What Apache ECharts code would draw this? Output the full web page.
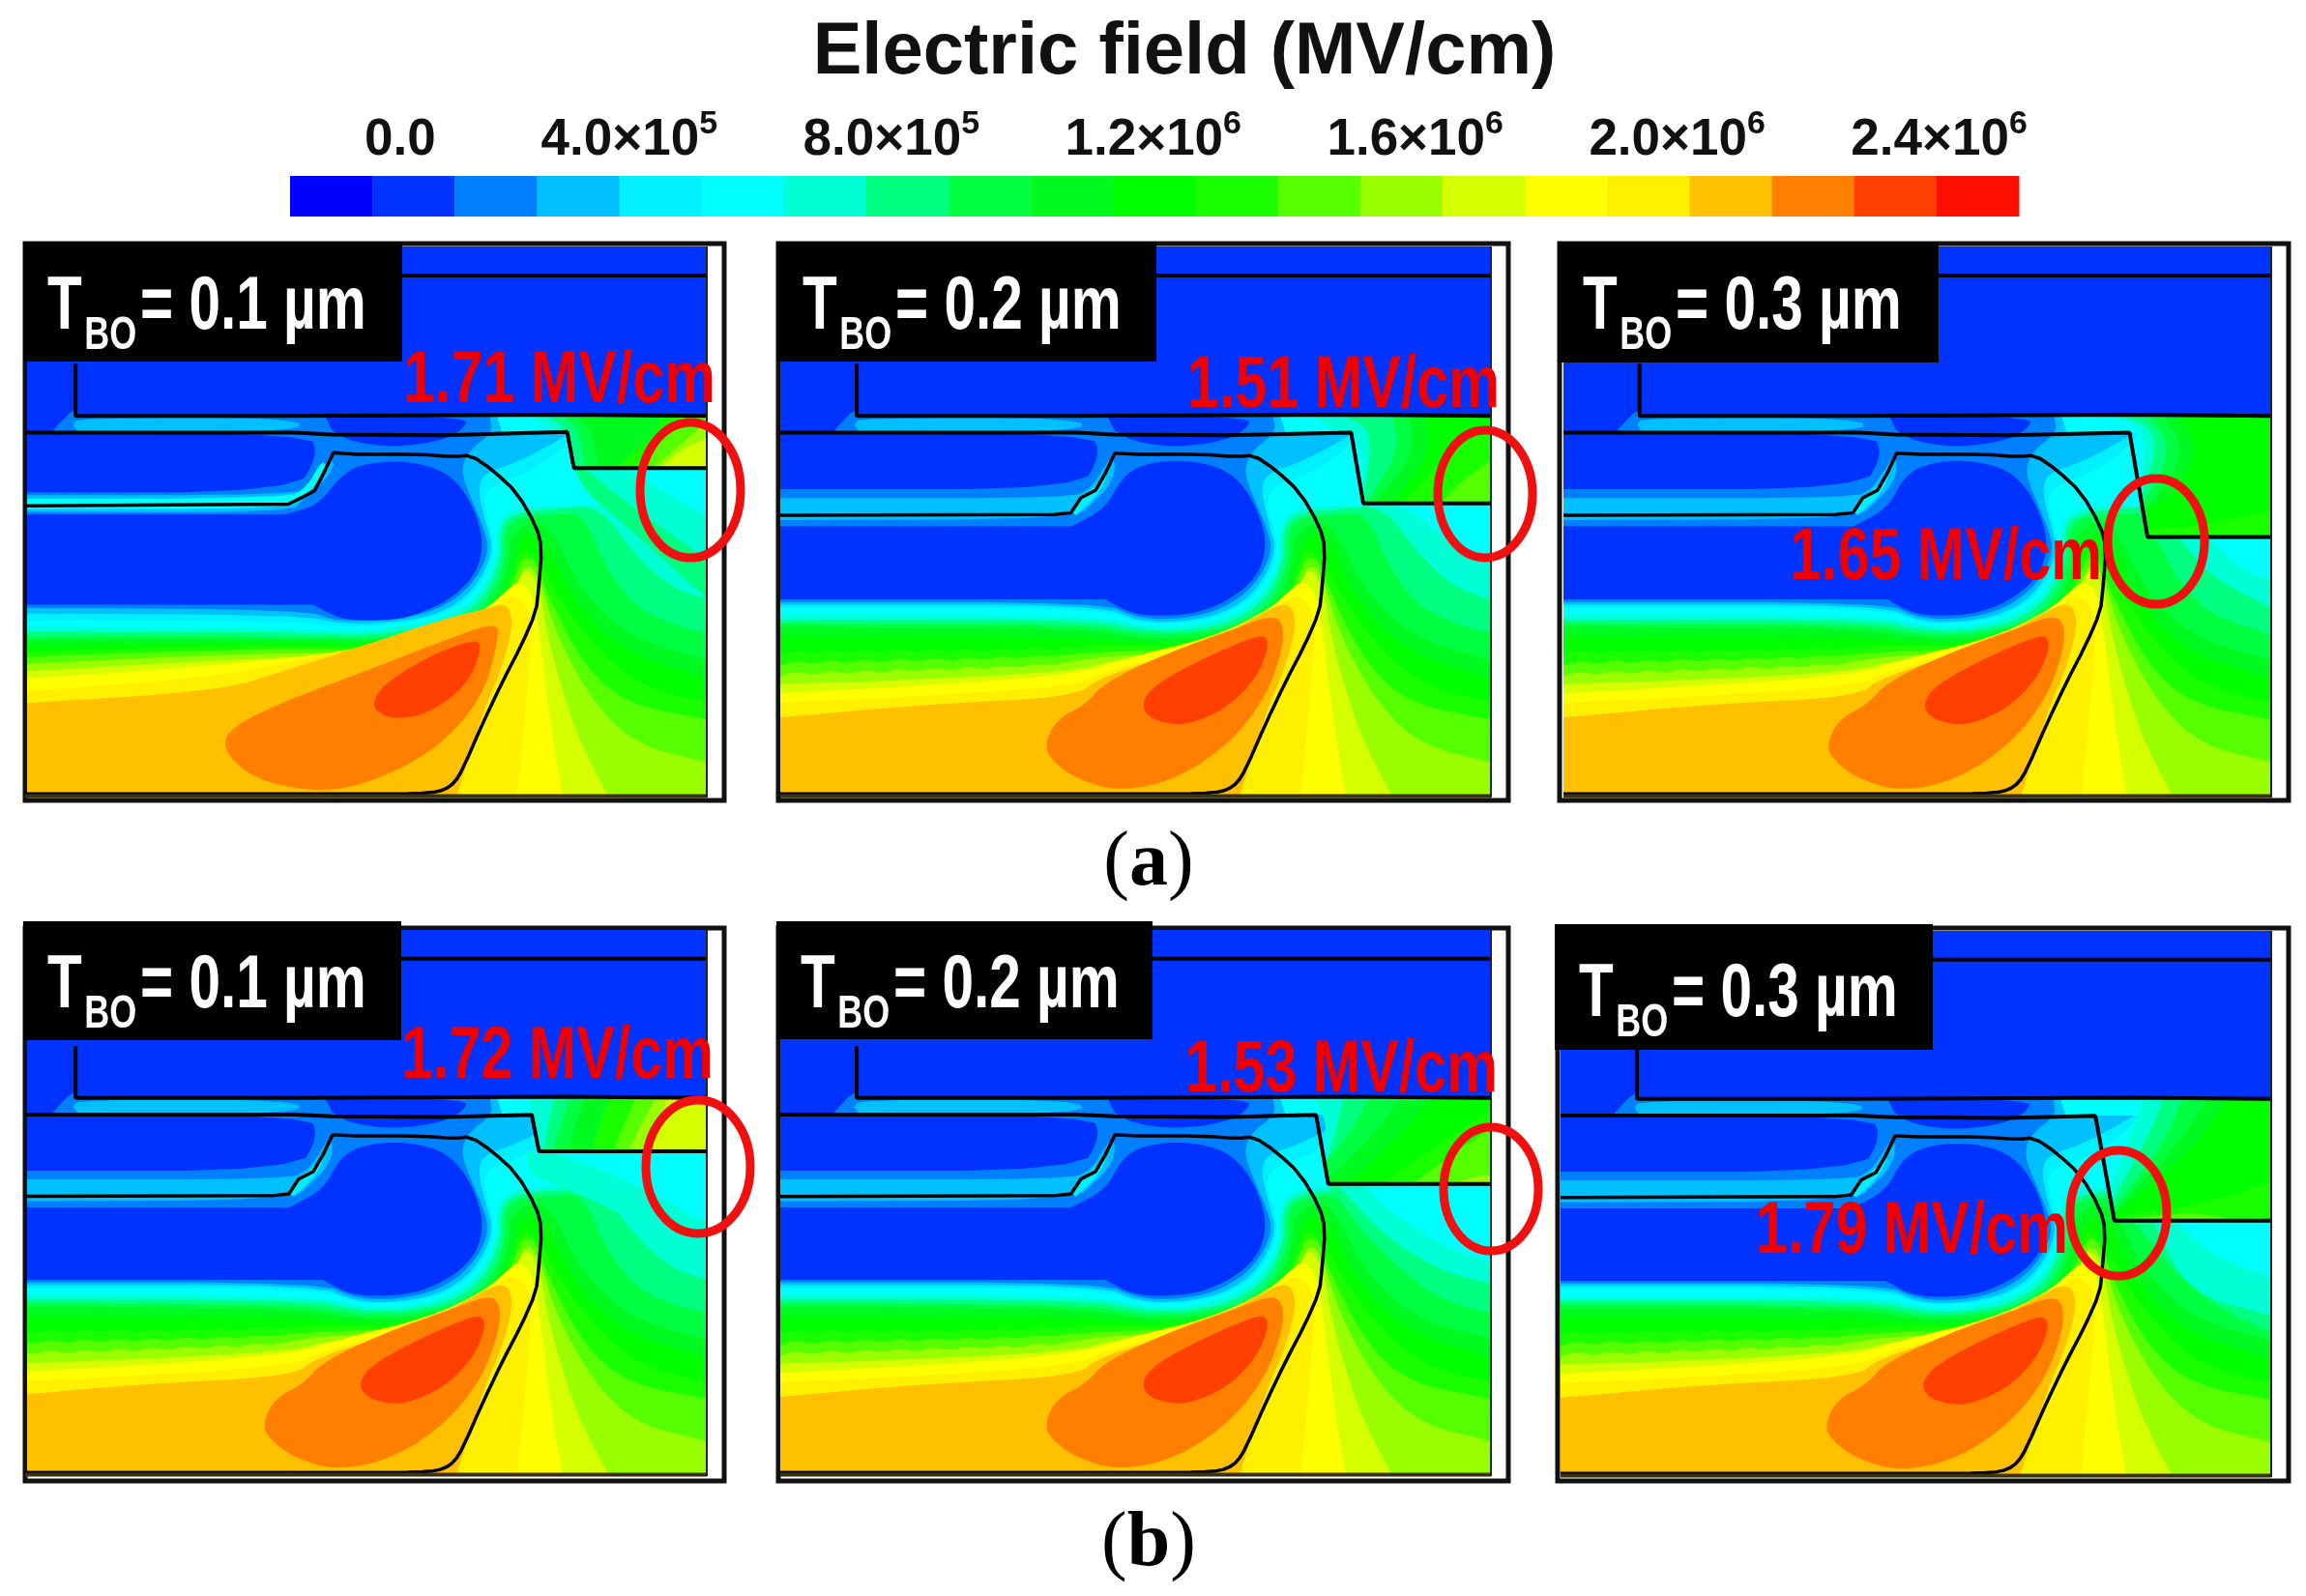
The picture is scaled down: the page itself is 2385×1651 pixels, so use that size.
<!DOCTYPE html>
<html><head><meta charset="utf-8">
<style>html,body{margin:0;padding:0;background:#fff}#c{width:2385px;height:1651px}</style>
<script src="https://cdn.jsdelivr.net/npm/echarts@6/dist/echarts.min.js"></script>
</head><body><div id="c"></div>
<script>
// ---- colour scale
const levelColors=['#0000ff','#0033ff','#0080ff','#00c0ff','#00f0ff','#00ffff','#00ffd5','#00ff80','#00ff40','#00fa20','#00ff00','#1aff00','#55ff00','#99ff00','#d5ff00','#ffff00','#fff000','#ffc000','#ff8000','#ff4000','#ff1000'];
const bandEdges=[-118000,7700,133400,259100,384800,510500,636200,761900,887600,1013300,1139000,1264700,1390400,1516100,1641800,1767500,1893200,2018900,2144600,2270300,2396000,2521700];
const tickValues=[50000,400000,800000,1200000,1600000,2000000,2400000];
const tickLabels=['{n|0.0}','{n|4.0×10}{s|5}','{n|8.0×10}{s|5}','{n|1.2×10}{s|6}','{n|1.6×10}{s|6}','{n|2.0×10}{s|6}','{n|2.4×10}{s|6}'];
// ---- panel annotations
const tboLabels=['= 0.1 µm','= 0.2 µm','= 0.3 µm','= 0.1 µm','= 0.2 µm','= 0.3 µm'];
const tboAnchors=[[49,357],[830,357],[1637,357],[49,1059],[828,1059],[1633,1068]];
const readoutTexts=['1.71 MV/cm','1.51 MV/cm','1.65 MV/cm','1.72 MV/cm','1.53 MV/cm','1.79 MV/cm'];
const readoutAnchors=[[417,433],[1228,438],[1851,616],[415,1132],[1226,1146],[1816,1313]];
const ringCenters=[[714,507],[1536,511],[2230,560],[722,1207],[1542,1230],[2191,1255]];
const ringRadii=[[52,70],[49,66],[50,65],[54,69],[49,64],[50,65]];
const labelBoxes=[[24,250,416,374],[803,250,1196,374],[1611,250,2005,375],[24,953,415,1076],[803,953,1192,1075],[1608,956,1999,1086]];
const frames=[[26,252,749,828],[805,252,1560,828],[1613,252,2367,828],[26,960,749,1532],[805,960,1560,1532],[1611,960,2367,1532]];
const fieldBoxes=[[28,255,731,825],[807,255,1542,825],[1617,255,2349,825],[28,962,731,1527],[807,962,1542,1527],[1614,963,2349,1528]];
const deviceXMin=[90,33,33,90,33,33];
const captionTexts=['{p|(}{b|a}{p|)}','{p|(}{b|b}{p|)}'];
const captionAnchors=[[1188,894],[1188,1598]];
// ---- device outlines (device units)
const topLine=[[33,118],[1492,118]];
const gateLine=[[190,355],[190,495],[640,495],[640,492],[1200,492],[1200,495],[1492,495]];
const bottomLine=[[33,1516],[1492,1516]];
const sideLine=[[1492,40],[1492,1520]];
const oxideRight=[[770,598],[900,598],[970,605],[1005,600],[1050,640],[1100,700],[1140,790],[1152,850],[1145,960],[1140,1020],[1110,1110],[1070,1210],[1030,1320],[990,1440],[972,1480],[950,1500],[920,1508],[860,1510],[33,1510]];
const oxideLeftB=[[33,762],[595,760],[630,755],[650,715],[680,695],[700,650],[720,595]];
const oxideLeftA=[[33,737],[629,732],[660,712],[683,696],[705,640],[722,594]];
const stepCommon=[[33,540],[640,540],[720,545],[950,547]];
const stepA1=[[1204,538],[1218,635],[1492,635]];
const stepA2=[[1205,540],[1230,730],[1492,730]];
const stepA3=[[1200,540],[1237,820],[1492,820]];
const stepB1=[[1131,541],[1146,640],[1492,640]];
const stepB2=[[1133,541],[1158,728],[1492,728]];
const stepB3=[[1131,541],[1170,825],[1492,825]];
// ---- contour right parts, by colour level
const rightL3=[[860,1040],[940,1015],[1005,955],[1045,860],[1030,790],[1000,700],[985,640],[1000,590],[1050,540],[1045,497]];
const rightL4=[[860,1048],[945,1025],[1012,965],[1052,860],[1038,790],[1020,700],[1030,650],[1100,620],[1180,565],[1210,540]];
const rightL5=[[860,1052],[948,1030],[1016,970],[1056,865],[1045,790],[1030,720],[1050,680],[1120,650],[1190,590],[1220,540]];
const rightL6=[[860,1062],[950,1040],[1022,980],[1060,880],[1058,790],[1085,745],[1170,735],[1240,735],[1309,735],[1375,798],[1434,858],[1492,876]];
const rightL7=[[870,1072],[960,1050],[1030,990],[1068,880],[1066,790],[1098,755],[1180,745],[1270,735],[1343,866],[1415,954],[1492,988]];
const rightL8=[[870,1082],[970,1058],[1040,1000],[1076,890],[1074,800],[1105,765],[1180,760],[1236,755],[1283,902],[1343,1006],[1420,1055],[1492,1078]];
const rightL9=[[870,1092],[980,1065],[1050,1005],[1085,900],[1085,820],[1125,780],[1170,790],[1230,960],[1330,1090],[1492,1150]];
const rightL10=[[880,1105],[990,1075],[1060,1015],[1095,920],[1100,840],[1130,810],[1160,830],[1220,1000],[1320,1130],[1492,1200]];
const rightL11=[[890,1112],[1000,1085],[1060,1025],[1090,930],[1110,850],[1140,870],[1215,1040],[1310,1180],[1400,1240],[1492,1260]];
const rightL12=[[900,1120],[1010,1095],[1070,1030],[1095,930],[1115,870],[1140,885],[1165,980],[1240,1170],[1330,1270],[1492,1310]];
const rightL13=[[905,1130],[1020,1100],[1080,1040],[1100,950],[1118,890],[1145,920],[1180,1080],[1260,1270],[1350,1380],[1492,1425]];
const rightL14=[[910,1135],[1030,1085],[1085,1000],[1105,925],[1125,905],[1148,960],[1165,1100],[1215,1320],[1250,1420],[1290,1520]];
const rightL15=[[920,1090],[1030,1020],[1075,970],[1100,940],[1125,955],[1140,1010],[1155,1170],[1175,1370],[1195,1520]];
const rightL16=[[920,1105],[1030,1035],[1070,990],[1090,975],[1120,1000],[1130,1060],[1125,1180],[1110,1400],[1100,1520]];
const rightL17=[[1040,1012],[1065,1000],[1085,1010],[1092,1060],[1070,1170],[1030,1290],[975,1520]];
// ---- contour left parts, variant B (five panels)
const leftB3=[[33,995],[695,995],[770,1040]];
const leftB4=[[33,1002],[690,1002],[770,1048]];
const leftB5=[[33,1010],[685,1010],[770,1052]];
const leftB6=[[33,1030],[680,1030],[775,1062]];
const leftB7=[[33,1042],[670,1042],[780,1072]];
const leftB8=[[33,1052],[660,1055],[770,1082]];
const leftB9=[[33,1062],[650,1065],[770,1092]];
const leftB10=[[33,1085],[300,1085],[640,1088],[770,1105]];
const leftB11=[[33,1135],[68,1123],[103,1135],[138,1122],[173,1133],[208,1121],[243,1132],[278,1120],[313,1131],[348,1119],[383,1130],[418,1118],[453,1128],[488,1117],[523,1126],[558,1116],[593,1122],[628,1116],[700,1112],[800,1113]];
const leftB12=[[33,1165],[68,1152],[103,1163],[138,1150],[173,1161],[208,1148],[243,1159],[278,1146],[313,1157],[348,1144],[383,1155],[418,1142],[453,1152],[488,1140],[523,1148],[558,1138],[593,1142],[628,1135],[720,1127]];
const leftB13=[[33,1193],[68,1180],[103,1191],[138,1178],[173,1189],[208,1176],[243,1186],[278,1173],[313,1183],[348,1170],[383,1180],[418,1167],[453,1176],[488,1164],[523,1172],[558,1160],[593,1165],[628,1155],[720,1138]];
const leftB14=[[33,1215],[300,1205],[640,1180],[720,1150]];
const leftB15=[[33,1240],[300,1222],[640,1190],[730,1150]];
const leftB16=[[33,1265],[300,1250],[640,1220],[700,1180]];
const leftB17=[[33,1305],[330,1270],[640,1250],[690,1195],[900,1115]];
// ---- contour left parts, variant A (first panel)
const leftA3=[[33,1010],[665,1015],[730,1048]];
const leftA4=[[33,1025],[660,1030],[740,1055]];
const leftA5=[[33,1045],[640,1045],[750,1065]];
const leftA6=[[33,1062],[620,1065],[770,1075]];
const leftA7=[[33,1075],[600,1075],[780,1085]];
const leftA8=[[33,1088],[500,1085],[780,1095]];
const leftA9=[[33,1098],[500,1093],[780,1100]];
const leftA10=[[33,1112],[500,1102],[780,1110]];
const leftA11=[[33,1130],[500,1112],[790,1115]];
const leftA12=[[33,1145],[500,1122],[800,1122]];
const leftA13=[[33,1165],[500,1135],[800,1130]];
const leftA14=[[33,1185],[500,1150],[800,1135]];
const leftA15=[[33,1205],[500,1165],[760,1125]];
const leftA16=[[33,1240],[500,1195],[740,1120]];
const leftA17=[[33,1270],[486,1235],[634,1174],[800,1105],[950,1040]];
// ---- peak blobs and low-field holes
const blobOrangeB=[[575,1380],[600,1310],[660,1270],[700,1210],[830,1130],[960,1070],[1040,1030],[1065,1050],[1065,1120],[1030,1250],[960,1370],[850,1470],[730,1505],[640,1470],[590,1420],[575,1380]];
const blobRedB=[[775,1265],[800,1220],[880,1160],[1000,1090],[1030,1085],[1035,1120],[1010,1200],[950,1280],[870,1325],[820,1320],[785,1300],[775,1265]];
const blobOrangeA=[[490,1387],[515,1326],[634,1255],[801,1174],[930,1108],[1058,1047],[1063,1092],[1029,1255],[930,1397],[782,1489],[673,1504],[555,1469],[490,1387]];
const blobRedA=[[801,1265],[831,1209],[930,1133],[1019,1093],[1027,1123],[999,1215],[930,1286],[861,1311],[816,1296],[801,1265]];
const holeUpperB=[[33,541],[672,541],[690,600],[650,692],[33,692]];
const holeUpperA=[[33,541],[672,541],[690,600],[645,700],[33,700]];
const holeCircleB=[[630,792],[700,745],[735,660],[770,630],[820,616],[880,616],[950,640],[995,700],[1025,790],[1030,860],[1010,930],[960,985],[900,1020],[840,1032],[760,1030],[700,988]];
const holeCircleA=[[620,760],[690,735],[735,660],[770,630],[820,618],[880,618],[950,642],[995,700],[1025,790],[1030,860],[1010,930],[960,990],[900,1025],[850,1044],[740,1044],[680,1002]];
const holeOval=[[705,497],[1000,497],[990,530],[950,560],[850,580],[760,565],[720,535]];
const stripB=[[33,716],[630,716],[670,690],[695,640],[715,600],[722,640],[705,690],[680,720],[640,772],[33,775]];
const stripA=[[33,708],[635,708],[680,680],[715,600],[725,640],[660,720],[630,755],[33,752]];
const stripCyanA=[[33,718],[625,716],[665,690],[700,610],[708,640],[665,710],[625,745],[33,745]];
const stripCyanB=[[630,752],[655,712],[690,670],[705,650],[690,700],[640,762]];
// ---- field right of the step, per panel: [level, curve, closing corners]
const cA1=[[1492,635],[1492,497]],cA2=[[1230,730],[1492,730],[1492,497]],cA3=[[1237,820],[1492,820],[1492,497]],cB1=[[1492,640],[1492,497]],cB2=[[1158,728],[1492,728],[1492,497]],cB3=[[1172,825],[1492,825],[1492,497]];
const rtA1=[[6,[[1130,497],[1160,520],[1180,540]],[[1204,540],[1218,635],[1492,635],[1492,497]]],[7,[[1165,497],[1195,525],[1210,560],[1222,635]],cA1],[8,[[1200,497],[1225,530],[1235,580],[1240,635]],cA1],[9,[[1225,497],[1250,530],[1262,580],[1268,635]],cA1],[11,[[1400,497],[1380,560],[1300,635]],cA1],[12,[[1440,497],[1400,560],[1340,635]],cA1],[13,[[1492,510],[1440,570],[1380,635]],[[1492,635]]],[14,[[1492,555],[1440,585],[1395,635]],[[1492,635]]],[7,[[1218,635],[1246,706],[1300,760],[1492,985]],[[1492,635]]],[6,[[1241,637],[1345,747],[1492,879]],[[1492,637]]],[5,[[1325,637],[1410,700],[1492,767]],[[1492,637]]]];
const rtA2=[[6,[[1130,497],[1175,540],[1215,545],[1228,600],[1228,660]],cA2],[7,[[1190,497],[1236,520],[1246,590],[1232,690]],cA2],[8,[[1290,497],[1303,590],[1244,715]],cA2],[9,[[1325,497],[1335,600],[1255,725]],cA2],[10,[[1360,497],[1370,590],[1290,730]],cA2],[11,[[1309,730],[1408,590],[1492,528]],[[1492,730]]],[12,[[1389,730],[1440,660],[1492,616]],[[1492,730]]]];
const rtA3=[[6,[[1150,497],[1205,510],[1232,555],[1228,640],[1222,690]],cA3],[7,[[1185,497],[1240,520],[1255,575],[1240,650],[1225,710]],cA3],[8,[[1240,497],[1280,560],[1270,640],[1227,730]],cA3],[9,[[1270,497],[1310,570],[1290,660],[1230,745]],cA3],[10,[[1300,497],[1340,570],[1315,670],[1232,760]],cA3],[11,[[1235,800],[1340,790],[1492,750]],[[1492,820],[1237,820]]],[7,[[1250,822],[1300,900],[1400,1020],[1492,1090]],[[1492,822]]],[6,[[1300,822],[1370,930],[1492,1010]],[[1492,822]]],[5,[[1365,822],[1420,900],[1492,935]],[[1492,822]]]];
const rtB1=[[6,[[1128,497],[1130,540]],[[1131,541],[1146,640],[1492,640],[1492,497]]],[7,[[1177,497],[1165,570],[1155,640]],cB1],[8,[[1210,497],[1190,570],[1175,640]],cB1],[9,[[1240,497],[1220,570],[1205,640]],cB1],[11,[[1290,497],[1270,570],[1255,640]],cB1],[12,[[1345,497],[1320,570],[1300,640]],cB1],[13,[[1385,497],[1355,570],[1330,640]],cB1],[14,[[1410,497],[1390,570],[1365,640]],cB1],[6,[[1120,640],[1127,712],[1276,775],[1492,960]],[[1492,640]]],[5,[[1177,645],[1325,712],[1492,837]],[[1492,640]]]];
const rtB2=[[6,[[1130,497],[1155,560],[1152,660]],cB2],[7,[[1190,497],[1170,600],[1153,680]],cB2],[8,[[1240,497],[1200,598],[1150,671]],cB2],[9,[[1300,505],[1250,598],[1160,712]],cB2],[10,[[1370,497],[1300,600],[1200,728]],cB2],[11,[[1270,728],[1350,650],[1492,530]],[[1492,728]]],[12,[[1330,728],[1400,660],[1492,577]],[[1492,728]]],[13,[[1420,728],[1440,715],[1492,702]],[[1492,728]]],[7,[[1158,730],[1250,895],[1350,1005],[1492,1045]],[[1492,730]]],[6,[[1180,734],[1280,878],[1400,970],[1492,998]],[[1492,730]]],[5,[[1230,734],[1300,816],[1400,900],[1492,941]],[[1492,730]]]];
const rtB3=[[6,[[1228,497],[1205,590],[1160,740]],cB3],[7,[[1270,497],[1235,610],[1165,770]],cB3],[8,[[1310,497],[1270,620],[1168,790]],cB3],[9,[[1360,497],[1300,620],[1170,800]],cB3],[10,[[1400,497],[1340,620],[1170,810]],cB3],[11,[[1170,815],[1350,780],[1492,720]],[[1492,825],[1172,825]]],[12,[[1172,825],[1330,800],[1420,825]],[]],[7,[[1210,827],[1290,960],[1380,1060],[1492,1130]],[[1492,827]]],[6,[[1250,827],[1322,1022],[1492,1082]],[[1492,827]]],[5,[[1297,827],[1377,927],[1492,974]],[[1492,827]]]];

// ---- build layers
const SE=[1492,1520],SW=[33,1520],NE=[1492,497];
const rightSets=[,,,rightL3,rightL4,rightL5,rightL6,rightL7,rightL8,rightL9,rightL10,rightL11,rightL12,rightL13,rightL14,rightL15,rightL16,rightL17];
const leftSetsB=[,,,leftB3,leftB4,leftB5,leftB6,leftB7,leftB8,leftB9,leftB10,leftB11,leftB12,leftB13,leftB14,leftB15,leftB16,leftB17];
const leftSetsA=[,,,leftA3,leftA4,leftA5,leftA6,leftA7,leftA8,leftA9,leftA10,leftA11,leftA12,leftA13,leftA14,leftA15,leftA16,leftA17];
function layersFor(isA,rt){
  const lefts=isA?leftSetsA:leftSetsB, out=[];
  out.push([1,[[33,40],[1492,40]],[SE,SW]]);
  out.push([2,[[140,540],[160,510],[185,478],[192,497]],[NE,SE,SW,[33,540]]]);
  out.push([3,[[185,520],[195,500],[650,500],[652,538],[195,538]],[]]);
  for(let L=3;L<=17;L++){
    let close=[SE,SW];
    if(L===3) close=[NE,SE,SW];
    if(L===4||L===5) close=[[1492,540],SE,SW];
    if(L>=14) close=[SW];
    out.push([L,lefts[L].concat(rightSets[L]),close]);
  }
  out.push([18,isA?blobOrangeA:blobOrangeB,[]]);
  out.push([19,isA?blobRedA:blobRedB,[]]);
  out.push([1,isA?holeUpperA:holeUpperB,[]]);
  out.push([3,isA?stripA:stripB,[]]);
  out.push([isA?5:4,isA?stripCyanA:stripCyanB,[]]);
  out.push([1,isA?holeCircleA:holeCircleB,isA?[[33,1002],[33,760]]:[[33,988],[33,792]]]);
  out.push([1,holeOval,[]]);
  out.push([5,[[1060,497],[1070,540]],[[1492,540],NE]]);
  return out.concat(rt);
}
function chaikin(p,n){
  let a=p;
  const closed=p.length>3&&p[0][0]===p[p.length-1][0]&&p[0][1]===p[p.length-1][1];
  for(let k=0;k<n;k++){
    if(a.length<3) return a;
    const b=closed?[]:[a[0]];
    for(let i=0;i<a.length-1;i++){
      const u=a[i],v=a[i+1];
      b.push([u[0]*.75+v[0]*.25,u[1]*.75+v[1]*.25],[u[0]*.25+v[0]*.75,u[1]*.25+v[1]*.75]);
    }
    if(closed) b.push(b[0]); else b.push(a[a.length-1]);
    a=b;
  }
  return a;
}
const rts=[rtA1,rtA2,rtA3,rtB1,rtB2,rtB3], steps=[stepA1,stepA2,stepA3,stepB1,stepB2,stepB3];
const grids=[],xAxes=[],yAxes=[],series=[];
fieldBoxes.forEach((b,i)=>{
  grids.push({left:b[0],top:b[1],width:b[2]-b[0],height:b[3]-b[1],show:false});
  xAxes.push({type:'value',gridIndex:i,min:deviceXMin[i],max:1492,show:false});
  yAxes.push({type:'value',gridIndex:i,min:40,max:1520,inverse:true,show:false});
  const layers=layersFor(i===0,rts[i]);
  series.push({type:'custom',name:'field '+i,coordinateSystem:'cartesian2d',xAxisIndex:i,yAxisIndex:i,clip:true,z:2,silent:true,animation:false,
    data:layers.map(l=>[l[1][0][0],l[1][0][1],l[0]]),
    renderItem:(p,api)=>{
      const l=layers[p.dataIndex];
      const pts=chaikin(l[1],2).concat(l[2]).map(q=>api.coord(q));
      return {type:'polygon',shape:{points:pts},style:{fill:levelColors[l[0]]}};
    }});
  const oxide=(i===0?oxideLeftA:oxideLeftB).concat(chaikin(oxideRight,1));
  const step=stepCommon.concat(steps[i]);
  [[topLine,'#000',4],[gateLine,'#000',4],[step,'#000',4],[oxide,'#000',3.5],[bottomLine,'#3a3210',4],[sideLine,'#222',2]].forEach(s=>{
    series.push({type:'line',xAxisIndex:i,yAxisIndex:i,data:s[0],symbol:'none',z:3,silent:true,animation:false,clip:true,lineStyle:{color:s[1],width:s[2]}});
  });
});
// overlay figure axes
grids.push({left:0,top:0,width:2385,height:1651,show:false});
xAxes.push({type:'value',gridIndex:6,min:0,max:2385,show:false});
yAxes.push({type:'value',gridIndex:6,min:0,max:1651,inverse:true,show:false});
series.push({type:'custom',name:'frames',xAxisIndex:6,yAxisIndex:6,z:1,silent:true,animation:false,clip:false,
  data:frames.map(f=>[f[0],f[1],f[2],f[3]]),
  renderItem:(p,api)=>{
    const a=api.coord([api.value(0),api.value(1)]),b=api.coord([api.value(2),api.value(3)]);
    return {type:'rect',shape:{x:a[0],y:a[1],width:b[0]-a[0],height:b[1]-a[1]},style:{fill:'#fff',stroke:'#111',lineWidth:5}};
  }});
series.push({type:'custom',name:'label boxes',xAxisIndex:6,yAxisIndex:6,z:5,silent:true,animation:false,clip:false,
  data:labelBoxes.map(f=>[f[0],f[1],f[2],f[3]]),
  renderItem:(p,api)=>{
    const a=api.coord([api.value(0),api.value(1)]),b=api.coord([api.value(2),api.value(3)]);
    return {type:'rect',shape:{x:a[0],y:a[1],width:b[0]-a[0],height:b[1]-a[1]},style:{fill:'#000'}};
  }});
series.push({type:'custom',name:'rings',xAxisIndex:6,yAxisIndex:6,z:6,silent:true,animation:false,clip:false,
  data:ringCenters.map((c,i)=>[c[0],c[1],ringRadii[i][0],ringRadii[i][1]]),
  renderItem:(p,api)=>{
    const c=api.coord([api.value(0),api.value(1)]);
    return {type:'ellipse',shape:{cx:c[0],cy:c[1],rx:api.value(2),ry:api.value(3)},style:{fill:'none',stroke:'#f01010',lineWidth:9}};
  }});
const FF='"Liberation Sans",Arial,sans-serif';
series.push({type:'custom',name:'readouts',xAxisIndex:6,yAxisIndex:6,z:7,silent:true,animation:false,clip:false,
  data:readoutAnchors.map(a=>[a[0],a[1]]),
  renderItem:(p,api)=>{
    const c=api.coord([api.value(0),api.value(1)]);
    return {type:'text',x:c[0],y:c[1],scaleX:.78,scaleY:1,style:{text:readoutTexts[p.dataIndex],fill:'#f00000',font:'bold 76px '+FF,align:'left',verticalAlign:'bottom'}};
  }});
series.push({type:'custom',name:'thickness labels',xAxisIndex:6,yAxisIndex:6,z:7,silent:true,animation:false,clip:false,
  data:tboAnchors.map(a=>[a[0],a[1]]),
  renderItem:(p,api)=>{
    const c=api.coord([api.value(0),api.value(1)]);
    const st=(t,f)=>({text:t,fill:'#fff',font:'bold '+f+'px '+FF,align:'left',verticalAlign:'bottom'});
    return {type:'group',x:c[0],y:c[1],scaleX:.75,scaleY:1,children:[
      {type:'text',x:0,y:0,style:st('T',78)},
      {type:'text',x:51,y:15,style:st('BO',48)},
      {type:'text',x:128,y:0,style:st(tboLabels[p.dataIndex],78)}
    ]};
  }});
series.push({type:'custom',name:'captions',xAxisIndex:6,yAxisIndex:6,z:7,silent:true,animation:false,clip:false,
  data:captionAnchors.map(a=>[a[0],a[1]]),
  renderItem:(p,api)=>{
    const c=api.coord([api.value(0),api.value(1)]);
    return {type:'text',x:c[0],y:c[1],style:{text:captionTexts[p.dataIndex],align:'center',verticalAlign:'middle',fill:'#000',
      rich:{p:{fontFamily:'Liberation Serif',fontSize:80,fontWeight:'normal',fill:'#000'},b:{fontFamily:'Liberation Serif',fontSize:80,fontWeight:'bold',fill:'#000'}}}};
  }});
// colour bar
grids.push({left:300,top:182,width:1788,height:42,show:false});
xAxes.push({type:'value',gridIndex:7,position:'top',min:bandEdges[0],max:bandEdges[21],
  axisLine:{show:false},axisTick:{show:false},splitLine:{show:false},
  axisLabel:{show:true,customValues:tickValues,margin:10,hideOverlap:false,showMinLabel:true,showMaxLabel:true,
    formatter:v=>tickLabels[tickValues.indexOf(v)],
    rich:{n:{fontFamily:'Liberation Sans',fontWeight:'bold',fontSize:53,color:'#111',lineHeight:60,verticalAlign:'bottom'},s:{fontFamily:'Liberation Sans',fontWeight:'bold',fontSize:34,color:'#111',lineHeight:60,verticalAlign:'top'}}}});
yAxes.push({type:'value',gridIndex:7,min:0,max:1,show:false});
series.push({type:'custom',name:'colour bar',xAxisIndex:7,yAxisIndex:7,z:2,silent:true,animation:false,
  data:levelColors.map((c,i)=>[bandEdges[i],bandEdges[i+1]]),
  renderItem:(p,api)=>{
    const a=api.coord([api.value(0),1]),b=api.coord([api.value(1),0]);
    return {type:'rect',shape:{x:a[0],y:a[1],width:b[0]-a[0]+.5,height:b[1]-a[1]},style:{fill:levelColors[p.dataIndex]}};
  }});
const chart=echarts.init(document.getElementById('c'),null,{renderer:'canvas'});
chart.setOption({backgroundColor:'#fff',animation:false,
  title:{text:'Electric field (MV/cm)',left:1220,top:12,textAlign:'center',textStyle:{fontFamily:'Liberation Sans',fontWeight:'bold',fontSize:76,color:'#111'}},
  grid:grids,xAxis:xAxes,yAxis:yAxes,series:series});
</script></body></html>
